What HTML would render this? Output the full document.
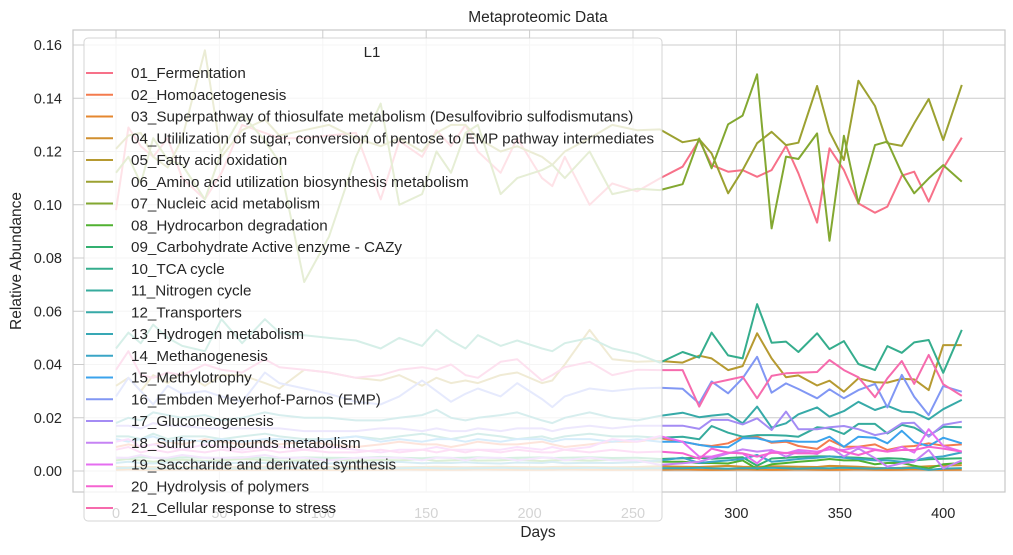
<!DOCTYPE html>
<html><head><meta charset="utf-8"><style>
body{margin:0;background:#fff;font-family:"Liberation Sans","DejaVu Sans",sans-serif;}
svg text{font-family:"Liberation Sans","DejaVu Sans",sans-serif;fill:#262626;}
</style></head><body>
<svg id="chart" width="1013" height="550" viewBox="0 0 1013 550" xmlns="http://www.w3.org/2000/svg">
<text x="538" y="22" font-size="15.5" text-anchor="middle">Metaproteomic Data</text>
<g id="grid"></g>
<g id="lines"></g>
<rect x="73" y="30" width="932" height="462" fill="none" stroke="#c8c8c8" stroke-width="1.2"/>
<g id="ticks"></g>
<text x="538" y="537" font-size="15.5" text-anchor="middle">Days</text>
<text transform="translate(21,261) rotate(-90)" font-size="15.5" text-anchor="middle">Relative Abundance</text>
<g id="legend"></g>
</svg>
<script>
const days=[0,6,12,18,25,32,43,51,61,72,79,91,103,116,128,137,148,155,162,169,175,186,194,206,211,217,229,240,252,263,274,282,288,296,303,310,317,324,330,339,345,352,359,367,373,380,386,393,400,409];
const seriesNames=["01_Fermentation","02_Homoacetogenesis","03_Superpathway of thiosulfate metabolism (Desulfovibrio sulfodismutans)","04_Utililization of sugar, conversion of pentose to EMP pathway intermediates","05_Fatty acid oxidation","06_Amino acid utilization biosynthesis metabolism","07_Nucleic acid metabolism","08_Hydrocarbon degradation","09_Carbohydrate Active enzyme - CAZy","10_TCA cycle","11_Nitrogen cycle","12_Transporters","13_Hydrogen metabolism","14_Methanogenesis","15_Methylotrophy","16_Embden Meyerhof-Parnos (EMP)","17_Gluconeogenesis","18_Sulfur compounds metabolism","19_Saccharide and derivated synthesis","20_Hydrolysis of polymers","21_Cellular response to stress"];
const seriesColors=["#f77189","#f47b4e","#e5872f","#d18f2f","#b69a31","#9ca131","#83a831","#50b131","#33b070","#35ad8d","#36ab9d","#37aaa8","#38a8b5","#3aa5c6","#3ba3ec","#8197f4","#a48cf4","#c683f4","#e56ef0","#f563d1","#f66bad"];
const s01=[.098,.129,.122,.118,.125,.11,.102,.112,.13,.127,.125,.125,.126,.127,.102,.124,.118,.128,.122,.13,.12,.112,.125,.11,.107,.118,.1,.108,.105,.1099,.1143,.1243,.1149,.1124,.1130,.1105,.1130,.1221,.1118,.0933,.1212,.1130,.1005,.0970,.0993,.1109,.1124,.1012,.1137,.1252];
const s02=[.009,.01,.009,.01,.011,.01,.012,.011,.01,.011,.01,.011,.01,.009,.01,.011,.01,.01,.009,.01,.011,.01,.01,.011,.01,.009,.01,.011,.011,.0123,.0110,.0098,.0094,.0104,.0129,.0129,.0106,.0110,.0094,.0083,.0116,.0091,.0091,.0100,.0079,.0091,.0094,.0104,.0095,.0100];
const s03=[.0005,.0006,.0005,.0004,.0005,.0006,.0005,.0004,.0005,.0005,.0006,.0005,.0004,.0005,.0005,.0006,.0005,.0004,.0005,.0005,.0006,.0005,.0004,.0005,.0005,.0006,.0005,.0004,.0005,.0005,.0006,.0005,.0004,.0005,.0006,.0005,.0004,.0005,.0006,.0005,.0004,.0005,.0006,.0005,.0004,.0005,.0006,.0005,.0004,.0005];
const s04=[.0015,.0014,.0016,.0015,.0013,.0015,.0016,.0014,.0015,.0016,.0015,.0014,.0015,.0016,.0015,.0014,.0015,.0016,.0015,.0014,.0015,.0016,.0015,.0014,.0015,.0016,.0015,.0014,.0015,.0018,.0016,.0015,.0017,.0019,.0016,.0015,.0018,.0017,.0016,.0015,.0019,.0018,.0016,.0012,.0010,.0012,.0015,.0018,.0020,.0022];
const s05=[.032,.035,.03,.036,.033,.037,.032,.036,.036,.033,.031,.038,.037,.035,.034,.036,.032,.035,.033,.034,.033,.036,.037,.033,.034,.04,.053,.042,.041,.0413,.0407,.0433,.0423,.0379,.0394,.0517,.0423,.0352,.0359,.0321,.0339,.0298,.0348,.0333,.0332,.0346,.0344,.0304,.0473,.0473];
const s06=[.121,.126,.127,.118,.114,.125,.158,.118,.128,.132,.126,.128,.13,.125,.122,.125,.12,.127,.13,.13,.125,.12,.122,.118,.115,.12,.125,.13,.128,.1283,.1235,.1246,.1193,.1043,.1130,.1231,.1274,.1224,.1233,.1446,.1274,.1168,.1466,.1371,.1231,.1221,.1306,.1397,.1243,.1450];
const s07=[.112,.118,.108,.125,.117,.115,.102,.12,.134,.124,.116,.071,.088,.118,.138,.1,.104,.12,.112,.127,.13,.104,.11,.113,.115,.11,.12,.104,.106,.1055,.1077,.1249,.1137,.1302,.1335,.1490,.0911,.1181,.1172,.1268,.0865,.1259,.1005,.1224,.1237,.1118,.1043,.1099,.1149,.1087];
const s08=[.004,.0045,.004,.0035,.004,.0042,.0038,.004,.0045,.0041,.0038,.004,.0043,.0039,.0041,.004,.0044,.0038,.004,.0042,.0039,.004,.0043,.0037,.004,.0041,.0039,.0042,.004,.0035,.0035,.0030,.0030,.0028,.0040,.0008,.0025,.0030,.0035,.0040,.0045,.0040,.0040,.0025,.0030,.0030,.0020,.0010,.0025,.0030];
const s09=[.005,.0048,.0052,.005,.0047,.0051,.005,.0049,.0052,.005,.0048,.0051,.005,.0049,.0053,.005,.0048,.0051,.0049,.005,.0052,.0048,.005,.0051,.0049,.005,.0052,.0049,.005,.0045,.0048,.0050,.0046,.0049,.0052,.0020,.0047,.0050,.0053,.0055,.0055,.0052,.0050,.0045,.0048,.0046,.0040,.0044,.0046,.0048];
const s10=[.046,.052,.048,.055,.05,.047,.045,.057,.048,.057,.052,.051,.05,.049,.046,.05,.047,.053,.049,.046,.051,.047,.049,.046,.045,.048,.05,.046,.044,.0407,.0447,.0426,.0520,.0434,.0423,.0627,.0482,.0486,.0447,.0517,.0458,.0488,.0402,.0379,.0469,.0444,.0483,.0492,.0369,.0530];
const s11=[.013,.013,.012,.014,.012,.013,.013,.012,.013,.014,.013,.012,.012,.013,.012,.013,.014,.013,.012,.013,.014,.013,.012,.013,.012,.013,.014,.013,.013,.0125,.0129,.0119,.0169,.0144,.0129,.0135,.0135,.0133,.0129,.0164,.0160,.0139,.0177,.0177,.0141,.0173,.0163,.0133,.0166,.0164];
const s12=[.018,.02,.019,.022,.021,.02,.021,.019,.02,.022,.021,.02,.02,.019,.019,.02,.021,.023,.02,.019,.02,.021,.022,.019,.018,.02,.022,.02,.019,.0207,.0219,.0202,.0208,.0214,.0179,.0242,.0163,.0179,.0213,.0239,.0204,.0225,.0260,.0229,.0245,.0223,.0220,.0194,.0232,.0267];
const s13=[.001,.0012,.001,.0009,.0011,.001,.0012,.001,.0009,.0011,.001,.0012,.001,.0009,.0011,.001,.0012,.001,.0009,.0011,.001,.0012,.001,.0009,.0011,.001,.0012,.001,.0009,.0011,.0010,.0012,.0010,.0009,.0011,.0010,.0012,.0010,.0009,.0011,.0010,.0012,.0010,.0009,.0011,.0010,.0012,.0004,.0009,.0011];
const s14=[.003,.0035,.003,.0028,.0032,.003,.0034,.0029,.0031,.003,.0033,.003,.0028,.0032,.003,.0034,.0029,.0031,.003,.0033,.003,.0028,.0032,.003,.0034,.0029,.0031,.003,.0033,.0040,.0050,.0030,.0035,.0040,.0045,.0060,.0035,.0040,.0045,.0050,.0055,.0050,.0045,.0040,.0040,.0035,.0040,.0050,.0055,.0070];
const s15=[.012,.011,.012,.013,.011,.012,.011,.012,.011,.012,.012,.011,.012,.013,.011,.012,.011,.012,.012,.011,.012,.011,.012,.012,.011,.012,.012,.011,.012,.0110,.0110,.0098,.0091,.0089,.0123,.0123,.0110,.0114,.0110,.0110,.0129,.0091,.0129,.0125,.0104,.0151,.0108,.0094,.0125,.0104];
const s16=[.028,.035,.03,.025,.032,.029,.03,.028,.026,.037,.033,.031,.029,.026,.025,.028,.034,.03,.026,.029,.031,.028,.033,.027,.024,.028,.031,.03,.031,.0313,.0309,.0254,.0336,.0292,.0348,.0429,.0294,.0329,.0308,.0273,.0307,.0273,.0304,.0327,.0239,.0361,.0279,.0210,.0319,.0298];
const s17=[.017,.017,.016,.018,.017,.017,.016,.016,.016,.016,.016,.015,.015,.015,.016,.016,.015,.016,.015,.015,.016,.015,.016,.016,.015,.016,.017,.016,.017,.0170,.0170,.0158,.0192,.0192,.0175,.0198,.0154,.0223,.0157,.0157,.0164,.0169,.0157,.0135,.0144,.0179,.0181,.0129,.0173,.0185];
const s18=[.005,.005,.006,.005,.005,.006,.005,.005,.005,.006,.005,.005,.004,.005,.005,.005,.004,.005,.005,.004,.005,.005,.004,.005,.005,.004,.005,.004,.004,.0023,.0029,.0035,.0048,.0066,.0081,.0073,.0079,.0054,.0073,.0064,.0091,.0054,.0085,.0048,.0016,.0029,.0035,.0079,.0010,.0039];
const s19=[.011,.012,.009,.01,.009,.008,.01,.009,.008,.009,.009,.008,.009,.008,.007,.008,.008,.009,.008,.008,.008,.008,.009,.008,.009,.008,.009,.012,.011,.0131,.0110,.0054,.0054,.0069,.0066,.0029,.0076,.0066,.0079,.0073,.0081,.0079,.0091,.0081,.0073,.0091,.0069,.0157,.0094,.0073];
const s20=[.008,.009,.007,.008,.007,.008,.007,.008,.007,.008,.007,.008,.007,.007,.008,.007,.008,.007,.008,.007,.008,.007,.008,.007,.007,.008,.007,.008,.007,.0073,.0067,.0046,.0084,.0069,.0066,.0054,.0068,.0068,.0066,.0066,.0091,.0073,.0060,.0079,.0073,.0079,.0079,.0091,.0084,.0073];
const s21=[.038,.045,.036,.035,.037,.036,.04,.038,.037,.042,.039,.038,.037,.035,.036,.038,.039,.038,.04,.036,.035,.041,.042,.034,.036,.039,.041,.036,.038,.0379,.0379,.0242,.0329,.0342,.0354,.0273,.0357,.0367,.0369,.0372,.0417,.0379,.0352,.0277,.0348,.0413,.0327,.0436,.0326,.0282];
const seriesValues=[s01,s02,s03,s04,s05,s06,s07,s08,s09,s10,s11,s12,s13,s14,s15,s16,s17,s18,s19,s20,s21];
const xTicks=[0,50,100,150,200,250,300,350,400];
const yTicks=[0,0.02,0.04,0.06,0.08,0.1,0.12,0.14,0.16];

const NS="http://www.w3.org/2000/svg";
const X=d=>116+d*2.068;
const Y=v=>471-v*2662.5;
function mk(tag,attrs,parent){const e=document.createElementNS(NS,tag);for(const k in attrs)e.setAttribute(k,attrs[k]);parent.appendChild(e);return e;}
const grid=document.getElementById('grid'),ticks=document.getElementById('ticks'),lines=document.getElementById('lines'),legend=document.getElementById('legend');
xTicks.forEach(t=>{
  const g=mk('line',{x1:X(t),x2:X(t),y1:30,y2:492,stroke:'#cccccc','stroke-width':1},grid);
  
  
  const tx=mk('text',{x:X(t),y:518,'font-size':14.5,'text-anchor':'middle'},ticks);
  tx.textContent=String(t);
  
  
});
yTicks.forEach(t=>{
  const g=mk('line',{x1:73,x2:1005,y1:Y(t),y2:Y(t),stroke:'#cccccc','stroke-width':1},grid);
  
  
  const tx=mk('text',{x:62,y:Y(t)+5,'font-size':14.5,'text-anchor':'end'},ticks);
  tx.textContent=t.toFixed(2);
  
  
});
seriesValues.forEach((vals,i)=>{
  const pts=vals.map((v,j)=>X(days[j]).toFixed(1)+','+Y(v).toFixed(1)).join(' ');
  const p=mk('polyline',{points:pts,fill:'none',stroke:seriesColors[i],'stroke-width':2,'stroke-linejoin':'round'},lines);
  
  
});
const box=mk('rect',{x:84,y:38,width:578,height:483,rx:4,fill:'#ffffff','fill-opacity':0.8,stroke:'#cccccc','stroke-opacity':0.8},legend);


const lt=mk('text',{x:372,y:57,'font-size':15,'text-anchor':'middle'},legend);
lt.textContent='L1';


seriesNames.forEach((n,i)=>{
  const yy=73+i*21.75;
  const ln=mk('line',{x1:86,x2:113,y1:yy,y2:yy,stroke:seriesColors[i],'stroke-width':2},legend);
  
  
  const tx=mk('text',{x:131,y:yy+5,'font-size':15.2},legend);
  tx.textContent=n;
  
  
});
</script>
</body></html>
